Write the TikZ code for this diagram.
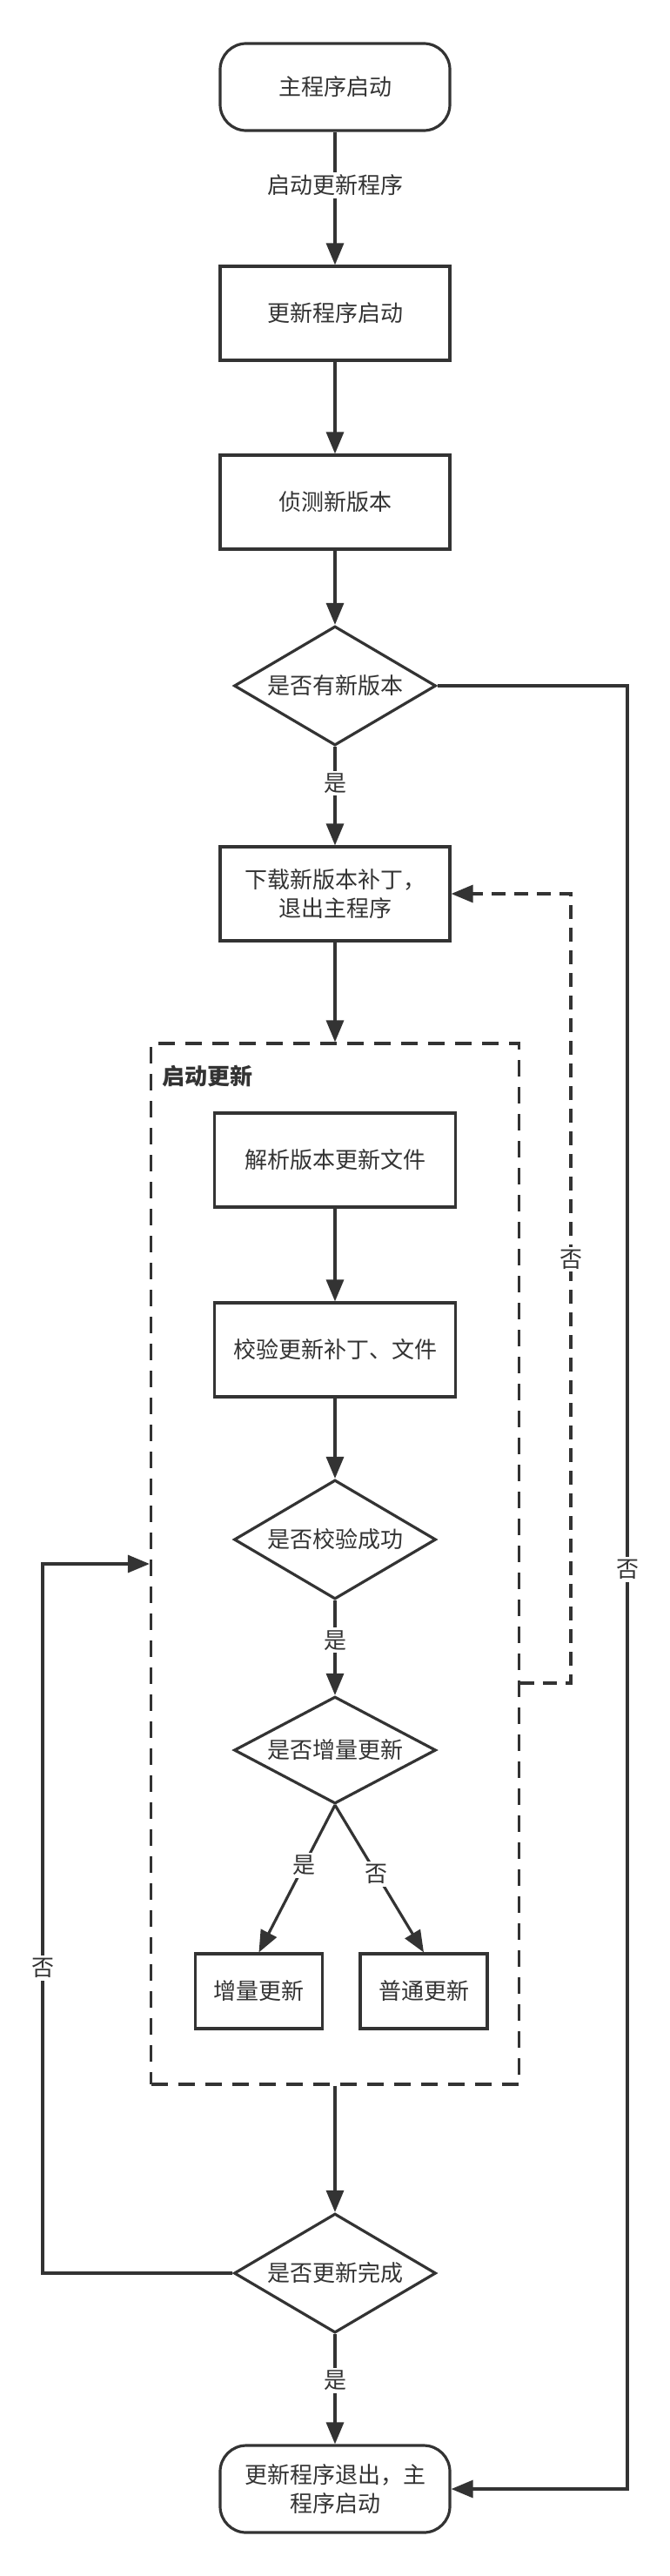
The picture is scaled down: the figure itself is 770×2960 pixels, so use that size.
\documentclass[tikz,border=0pt]{standalone}
\usepackage{fontspec}
\setmainfont{Noto Sans CJK SC}
\usetikzlibrary{arrows.meta, shapes.geometric, calc}
\definecolor{ink}{HTML}{333333}

\begin{document}
\begin{tikzpicture}[x=0.5pt, y=-0.5pt,
		every node/.style={font=\fontsize{13pt}{16.5pt}\selectfont, text=ink},
		box/.style={draw=ink, line width=1.6pt, minimum width=132pt, minimum height=54pt, inner sep=0pt, align=center},
		term/.style={box, rounded corners=15pt, minimum height=50pt},
		choice/.style={draw=ink, line width=1.6pt, diamond, aspect=1.7, inner sep=0pt, minimum width=116pt, minimum height=68.5pt},
		small/.style={box, minimum width=73pt, minimum height=43pt},
		group/.style={draw=ink, line width=1.6pt, dash pattern=on 9.5pt off 6pt, minimum width=211.5pt, minimum height=598pt, inner sep=0pt},
		flow/.style={draw=ink, line width=1.6pt, -{Triangle[length=12.5pt, width=10pt]}},
		back/.style={flow, dash pattern=on 8pt off 5pt},
		lbl/.style={fill=white, inner sep=1.5pt}]
		\useasboundingbox (0,0) rectangle (770,2960);
		
		\node[term] (start) at (385,100) {主程序启动};
		\node[box] (launch) at (385,360) {更新程序启动};
		\node[box] (detect) at (385,577) {侦测新版本};
		\node[choice] (hasnew) at (385,788) {是否有新版本};
		\node[box] (fetch) at (385,1027) {下载新版本补丁，\\退出主程序};
		
		\node[group] (upd) at (385,1797) {};
		\node[font=\fontsize{13pt}{16.5pt}\selectfont\bfseries, anchor=west, inner sep=0pt] (updtitle) at (186,1237) {启动更新};
		\node[box, minimum width=138.5pt] (parse) at (385,1333) {解析版本更新文件};
		\node[box, minimum width=138.5pt] (verify) at (385,1551) {校验更新补丁、文件};
		\node[choice] (verified) at (385,1769) {是否校验成功};
		\node[choice, minimum height=61.5pt] (delta) at (385,2011) {是否增量更新};
		\node[small] (inc) at (297.5,2288) {增量更新};
		\node[small] (full) at (487,2288) {普通更新};
		
		\node[choice] (done) at (385,2612) {是否更新完成};
		\node[term] (finish) at (385,2860) {更新程序退出，主\\程序启动};
		
		\draw[flow] (start) -- node[lbl, pos=0.4] {启动更新程序} (launch);
		\draw[flow] (launch) -- (detect);
		\draw[flow] (detect) -- (hasnew);
		\draw[flow] (hasnew) -- node[lbl, pos=0.37] {是} (fetch);
		\draw[flow] (fetch) -- (upd);
		\draw[flow] (parse) -- (verify);
		\draw[flow] (verify) -- (verified);
		\draw[flow] (verified) -- node[lbl, pos=0.42] {是} (delta);
		\draw[flow] (delta.south) -- node[lbl, pos=0.41] {是} (inc.north);
		\draw[flow] (delta.south) -- node[lbl, pos=0.47] {否} (full.north);
		\draw[flow] (upd) -- (done);
		\draw[flow] (done) -- node[lbl, pos=0.42] {是} (finish);
		
		\coordinate (rx) at (721,788);
		\draw[flow] (hasnew.east) -- (rx) -- node[lbl, pos=0.49] {否} (rx |- finish.east) -- (finish.east);
		
		\coordinate (fb) at (656,1934);
		\draw[back] (fb -| upd.east) -- (fb) -- node[lbl, pos=0.537] {否} (fb |- fetch.east) -- (fetch.east);
		
		\coordinate (lx) at (49,2612);
		\draw[flow] (done.west) -- (lx) -- node[lbl, pos=0.43] {否} (lx |- upd.west) -- (upd.west);
	\end{tikzpicture}
\end{document}
